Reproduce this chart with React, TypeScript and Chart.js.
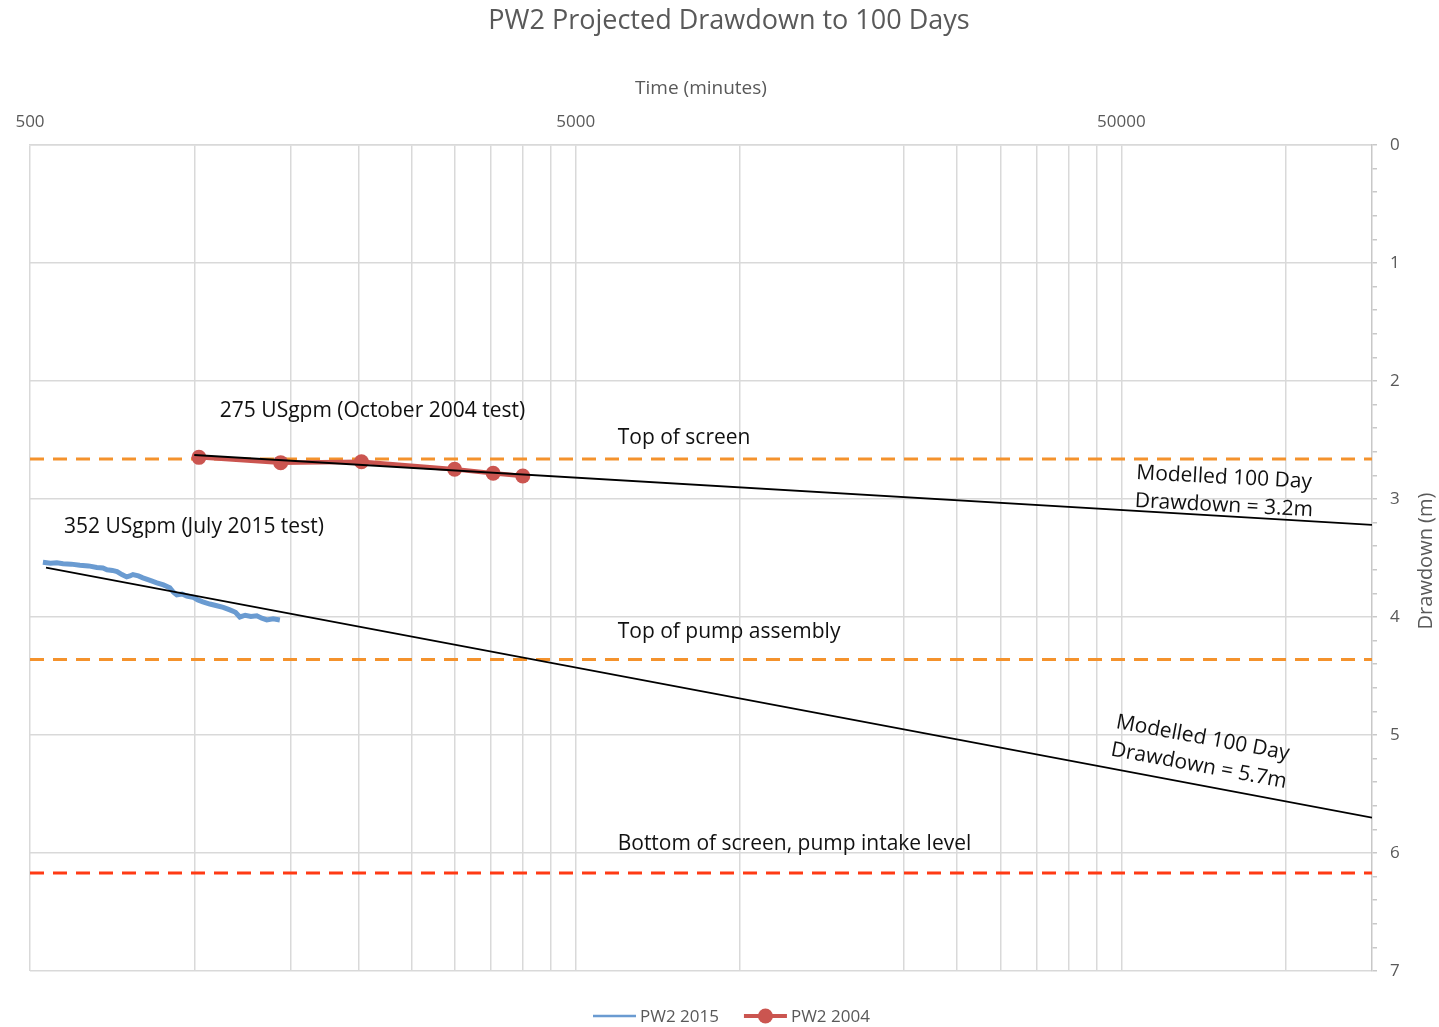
import React, { useEffect, useRef } from 'react';
import { Chart, registerables } from 'chart.js';

Chart.register(...registerables);

const FONT = '"Open Sans", "DejaVu Sans", sans-serif';
const GREY_TEXT = '#595959';
const GRID = '#D9D9D9';

const chartTitle = 'PW2 Projected Drawdown to 100 Days';

// Time axis (minutes, log scale) – gridline positions and labelled ticks
const timeGridMinutes = [500, 1000, 1500, 2000, 2500, 3000, 3500, 4000, 4500, 5000, 10000, 20000, 25000, 30000, 35000, 40000, 45000, 50000, 100000];
const timeLabelMinutes = [500, 5000, 50000];
const timeMinMinutes = 500;
const timeMaxMinutes = 144000; // 100 days

// Drawdown axis (m)
const drawdownMin = 0;
const drawdownMax = 7;
const drawdownMinorStep = 0.2;

// PW2 2015 test record (352 USgpm, July 2015)
const pw2015Minutes = [528, 545, 560, 575, 595, 617, 640, 663, 680, 692, 708, 722, 737, 752, 762, 772, 790, 805, 830, 854, 878, 902, 916, 929, 950, 969, 994, 1015, 1037, 1068, 1100, 1130, 1162, 1190, 1212, 1240, 1270, 1302, 1330, 1358, 1395, 1435];
const pw2015Drawdown = [3.536, 3.545, 3.54, 3.548, 3.552, 3.562, 3.567, 3.58, 3.585, 3.6, 3.605, 3.615, 3.64, 3.66, 3.652, 3.64, 3.652, 3.668, 3.69, 3.71, 3.728, 3.752, 3.79, 3.812, 3.805, 3.822, 3.832, 3.855, 3.872, 3.89, 3.905, 3.918, 3.94, 3.96, 4.0, 3.985, 3.995, 3.99, 4.01, 4.025, 4.015, 4.025];

// PW2 2004 test record (275 USgpm, October 2004)
const pw2004Minutes = [1020, 1440, 2025, 3000, 3530, 4000];
const pw2004Drawdown = [2.647, 2.692, 2.684, 2.748, 2.782, 2.805];

// Straight-line (Cooper-Jacob) projections to 100 days
const trend2004Minutes = [1000, 144000];
const trend2004Drawdown = [2.627, 3.22];
const trend2015Minutes = [535, 144000];
const trend2015Drawdown = [3.582, 5.7];

// Well construction reference levels (m below static)
const levelNames = ['Top of screen', 'Top of pump assembly', 'Bottom of screen, pump intake level'];
const levelDrawdown = [2.66, 4.36, 6.17];
const levelColors = ['#F4922C', '#F4922C', '#FF3A14'];

const BLUE = '#6A9BD1';
const RED = '#CB5550';

const xy = (xs: number[], ys: number[]) => xs.map((x, i) => ({ x, y: ys[i] }));

const minorTicks: number[] = [];
for (let k = 0; k <= Math.round((drawdownMax - drawdownMin) / drawdownMinorStep); k++) {
  minorTicks.push(Math.round((drawdownMin + k * drawdownMinorStep) * 10) / 10);
}
const isWhole = (v: number) => Math.abs(v - Math.round(v)) < 1e-9;

type Note = { lines: string[]; t: number; d: number; angle: number };
const notes: Note[] = [
  { lines: ['275 USgpm (October 2004 test)'], t: 1114, d: 2.254, angle: 0 },
  { lines: [levelNames[0]], t: 5970, d: 2.483, angle: 0 },
  { lines: ['352 USgpm (July 2015 test)'], t: 577, d: 3.237, angle: 0 },
  { lines: [levelNames[1]], t: 5970, d: 4.127, angle: 0 },
  { lines: [levelNames[2]], t: 5970, d: 5.924, angle: 0 },
  { lines: ['Modelled 100 Day', 'Drawdown = 3.2m'], t: 53270, d: 2.78, angle: 3 },
  { lines: ['Modelled 100 Day', 'Drawdown = 5.7m'], t: 48940, d: 4.89, angle: 10.5 },
];

const legendItems = [
  { label: 'PW2 2015', color: BLUE, width: 2.5, marker: false },
  { label: 'PW2 2004', color: RED, width: 4, marker: true },
];

const decorPlugin = {
  id: 'drawdownDecor',
  afterDraw(chart: any) {
    const { ctx, scales } = chart;
    const xs = scales.x;
    const ys = scales.y;
    ctx.save();
    // chart title
    ctx.fillStyle = GREY_TEXT;
    ctx.font = `27px ${FONT}`;
    ctx.textAlign = 'center';
    ctx.textBaseline = 'middle';
    ctx.fillText(chartTitle, 729, 21);
    // annotations
    ctx.fillStyle = '#111111';
    ctx.font = `21px ${FONT}`;
    ctx.textAlign = 'left';
    for (const n of notes) {
      const px = xs.getPixelForValue(n.t);
      const py = ys.getPixelForValue(n.d);
      ctx.save();
      ctx.translate(px, py);
      ctx.rotate((n.angle * Math.PI) / 180);
      n.lines.forEach((line, i) => ctx.fillText(line, 0, i * 28));
      ctx.restore();
    }
    // y-axis title
    ctx.save();
    ctx.fillStyle = GREY_TEXT;
    ctx.font = `20px ${FONT}`;
    ctx.textAlign = 'center';
    ctx.translate(1426, (chart.chartArea.top + chart.chartArea.bottom) / 2 + 3);
    ctx.rotate(-Math.PI / 2);
    ctx.fillText('Drawdown (m)', 0, 0);
    ctx.restore();
    // legend
    ctx.font = `17px ${FONT}`;
    ctx.textBaseline = 'middle';
    let lx = 593;
    const ly = 1016;
    for (const item of legendItems) {
      ctx.strokeStyle = item.color;
      ctx.lineWidth = item.width;
      ctx.beginPath();
      ctx.moveTo(lx, ly);
      ctx.lineTo(lx + 43, ly);
      ctx.stroke();
      if (item.marker) {
        ctx.fillStyle = item.color;
        ctx.beginPath();
        ctx.arc(lx + 21.5, ly, 7.5, 0, Math.PI * 2);
        ctx.fill();
      }
      ctx.fillStyle = GREY_TEXT;
      ctx.fillText(item.label, lx + 47, ly + 1);
      lx += 47 + ctx.measureText(item.label).width + 25;
    }
    ctx.restore();
  },
};

export default function App() {
  const canvasRef = useRef<HTMLCanvasElement>(null);

  useEffect(() => {
    const canvas = canvasRef.current;
    if (!canvas) return;

    const levelSets = levelNames.map((name, i) => ({
      label: name,
      data: xy([timeMinMinutes, timeMaxMinutes], [levelDrawdown[i], levelDrawdown[i]]),
      borderColor: levelColors[i],
      borderWidth: 3,
      borderDash: [14, 9],
      pointRadius: 0,
      fill: false,
    }));

    const chart = new Chart(canvas, {
      type: 'line',
      data: {
        datasets: [
          {
            label: 'Projection 2004',
            data: xy(trend2004Minutes, trend2004Drawdown),
            borderColor: '#000000',
            borderWidth: 1.8,
            pointRadius: 0,
          },
          {
            label: 'Projection 2015',
            data: xy(trend2015Minutes, trend2015Drawdown),
            borderColor: '#000000',
            borderWidth: 1.8,
            pointRadius: 0,
          },
          {
            label: 'PW2 2004',
            data: xy(pw2004Minutes, pw2004Drawdown),
            borderColor: RED,
            backgroundColor: RED,
            borderWidth: 4.5,
            pointRadius: 7.5,
            pointBorderWidth: 0,
          },
          {
            label: 'PW2 2015',
            data: xy(pw2015Minutes, pw2015Drawdown),
            borderColor: BLUE,
            borderWidth: 5,
            pointRadius: 0,
          },
          ...levelSets,
        ] as any,
      },
      options: {
        animation: false,
        responsive: true,
        maintainAspectRatio: false,
        layout: { padding: { left: 30, right: 0, top: 36.4, bottom: 56 } },
        plugins: {
          legend: { display: false },
          tooltip: { enabled: false },
          title: { display: false },
        },
        scales: {
          x: {
            type: 'logarithmic',
            position: 'top',
            min: timeMinMinutes,
            max: timeMaxMinutes,
            afterBuildTicks: (s: any) => {
              s.ticks = timeGridMinutes.map((v) => ({ value: v }));
            },
            afterFit: (s: any) => {
              s.height = 108.6;
            },
            ticks: {
              autoSkip: false,
              maxRotation: 0,
              padding: 12.5,
              color: GREY_TEXT,
              font: { family: FONT, size: 17 },
              callback: (v: any) => (timeLabelMinutes.includes(Number(v)) ? String(v) : ''),
            },
            grid: { color: GRID, lineWidth: 1.5, drawTicks: false },
            border: { color: GRID, width: 1.5 },
            title: {
              display: true,
              text: 'Time (minutes)',
              color: GREY_TEXT,
              font: { family: FONT, size: 19 },
              padding: { top: 41, bottom: 0 },
            },
          },
          y: {
            type: 'linear',
            position: 'right',
            reverse: true,
            min: drawdownMin,
            max: drawdownMax,
            afterBuildTicks: (s: any) => {
              s.ticks = minorTicks.map((v) => ({ value: v }));
            },
            afterFit: (s: any) => {
              s.width = 67;
            },
            ticks: {
              autoSkip: false,
              padding: 13,
              color: GREY_TEXT,
              font: { family: FONT, size: 17 },
              callback: (v: any) => (isWhole(Number(v)) ? String(Math.round(Number(v))) : ''),
            },
            grid: {
              color: (c: any) => (isWhole(c.tick?.value ?? 0) ? GRID : 'rgba(0,0,0,0)'),
              tickColor: '#C8C8C8',
              tickLength: 5,
              lineWidth: 1.5,
            },
            border: { color: '#C8C8C8', width: 1.5 },
          },
        },
      } as any,
      plugins: [decorPlugin],
    });

    return () => chart.destroy();
  }, []);

  return (
    <div style={{ position: 'fixed', left: 0, top: 0, width: 1439, height: 1027, background: '#ffffff' }}>
      <canvas ref={canvasRef} />
    </div>
  );
}
